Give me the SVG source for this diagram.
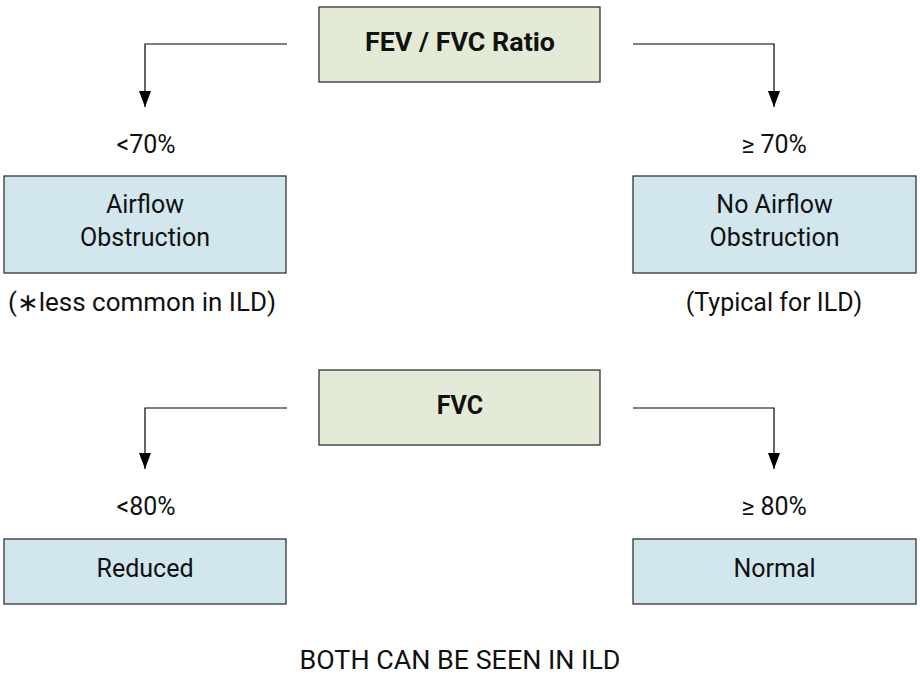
<svg xmlns="http://www.w3.org/2000/svg" width="920" height="676" viewBox="0 0 920 676">
<defs>
<marker id="arr" markerWidth="16" markerHeight="12" refX="16" refY="6" orient="auto" markerUnits="userSpaceOnUse" viewBox="0 0 16 12">
<path d="M0,0 L16,6 L0,12 Z" fill="#000"/>
</marker>
</defs>
<style>
.g{fill:#e3ebd6;stroke:#333;stroke-width:1.3}
.b{fill:#d1e6ed;stroke:#333;stroke-width:1.3}
.t{font-family:Roboto,"Liberation Sans",sans-serif;font-size:25px;fill:#111;text-anchor:middle}
.h{font-family:Roboto,"Liberation Sans",sans-serif;font-size:25px;font-weight:bold;fill:#111;text-anchor:middle}
.c{fill:none;stroke:#000;stroke-width:1.2}
</style>
<rect width="920" height="676" fill="#fff"/>
<g id="connectors">
<path class="c" d="M287,44 H145 V107" marker-end="url(#arr)"/>
<path class="c" d="M633,44 H774 V107" marker-end="url(#arr)"/>
<path class="c" d="M287,408 H145 V469" marker-end="url(#arr)"/>
<path class="c" d="M633,408 H774 V469" marker-end="url(#arr)"/>
</g>
<g id="fev-fvc">
<rect class="g" x="319" y="7" width="281" height="75"/>
<text class="h" x="460" y="51" textLength="190" lengthAdjust="spacingAndGlyphs">FEV / FVC Ratio</text>
</g>
<g id="lt70">
<text class="t" x="146" y="153">&lt;70%</text>
</g>
<g id="ge70">
<text class="t" x="774" y="153">≥ 70%</text>
</g>
<g id="airflow">
<rect class="b" x="4" y="176" width="282" height="97"/>
<text class="t" x="145" y="213">Airflow</text>
<text class="t" x="145" y="246">Obstruction</text>
</g>
<g id="no-airflow">
<rect class="b" x="633" y="176" width="283" height="97"/>
<text class="t" x="774.5" y="213">No Airflow</text>
<text class="t" x="774.5" y="246">Obstruction</text>
</g>
<g id="note-left">
<text class="t" x="142" y="311" textLength="268" lengthAdjust="spacingAndGlyphs">(∗less common in ILD)</text>
</g>
<g id="note-right">
<text class="t" x="774" y="311">(Typical for ILD)</text>
</g>
<g id="fvc">
<rect class="g" x="319" y="370" width="281" height="75"/>
<text class="h" x="460" y="414">FVC</text>
</g>
<g id="lt80">
<text class="t" x="146" y="515">&lt;80%</text>
</g>
<g id="ge80">
<text class="t" x="774" y="515">≥ 80%</text>
</g>
<g id="reduced">
<rect class="b" x="4" y="539" width="282" height="65"/>
<text class="t" x="145" y="577">Reduced</text>
</g>
<g id="normal">
<rect class="b" x="633" y="539" width="283" height="65"/>
<text class="t" x="774.5" y="577">Normal</text>
</g>
<g id="footer">
<text class="t" x="460" y="669" textLength="321" lengthAdjust="spacingAndGlyphs" style="font-size:26px">BOTH CAN BE SEEN IN ILD</text>
</g>
</svg>
